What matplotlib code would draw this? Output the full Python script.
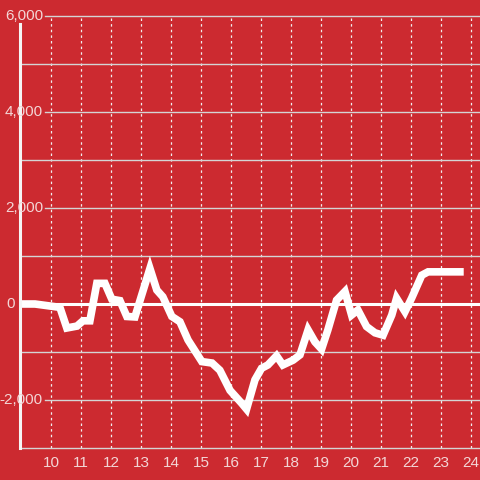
import matplotlib
matplotlib.use("Agg")
import matplotlib.pyplot as plt

# hour of day vs value
hours = [9.0, 9.47, 10.3, 10.53, 10.87, 11.07, 11.3, 11.53, 11.8, 12.03, 12.3, 12.53,
         12.8, 13.3, 13.53, 13.73, 14.03, 14.3, 14.57, 15.03, 15.37, 15.63, 15.97,
         16.36, 16.52, 16.8, 17.02, 17.23, 17.52, 17.73, 18.07, 18.3, 18.57, 18.8,
         19.02, 19.23, 19.52, 19.8, 20.02, 20.23, 20.52, 20.8, 21.07, 21.36, 21.52,
         21.8, 22.02, 22.36, 22.57, 23.63]
values = [0, 0, -70, -500, -460, -350, -350, 430, 430, 100, 70, -260,
          -270, 740, 290, 150, -260, -370, -750, -1200, -1230, -1380, -1800,
          -2070, -2190, -1580, -1340, -1270, -1080, -1270, -1170, -1060, -540, -790,
          -940, -540, 80, 260, -230, -125, -470, -600, -650, -230, 120,
          -160, 120, 600, 670, 670]

x_ticks = list(range(10, 25))
y_labeled = [6000, 4000, 2000, 0, -2000]
y_unlabeled = [5000, 3000, 1000, -1000, -3000]

red = "#cc2a30"
txt = "#f3d6d6"
plt.rcParams["font.family"] = ["Liberation Sans", "DejaVu Sans"]

fig = plt.figure(figsize=(4.8, 4.8), dpi=100, facecolor=red)
ax = fig.add_axes([20 / 480, 32 / 480, 460 / 480, 432 / 480], facecolor=red)
ax.set_xlim(8.97, 24.3)
ax.set_ylim(-3000, 6000)

# grid
for h in x_ticks:
    ax.axvline(h, color="#f0f0f0", lw=0.9, ls=(0, (2, 2.5)), zorder=1)
ytr = ax.get_yaxis_transform()
for v in y_unlabeled:
    ax.plot([0, 1], [v, v], transform=ytr, color="#d4d4d4", lw=1, zorder=1, clip_on=False)
for v in y_labeled:
    if v == 0:
        continue
    ax.plot([25 / 460, 1], [v, v], transform=ytr, color="#d4d4d4", lw=1, zorder=1, clip_on=False)
ax.axhline(0, color="white", lw=2.2, zorder=2)

# the series
ax.plot(hours, values, color="white", lw=5.5, zorder=3, solid_joinstyle="miter")

# y labels drawn by hand
for v in y_labeled:
    label = f"{v:,}".replace("-", "-")
    if v == 0:
        ax.text(-5 / 460, v, label, transform=ytr, ha="right", va="center",
                color=txt, fontsize=11, zorder=5)
    else:
        ax.text(23 / 460, v, label, transform=ytr, ha="right", va="center",
                color=txt, fontsize=11, zorder=5, clip_on=False)

ax.set_xticks(x_ticks)
ax.set_xticklabels([str(h) for h in x_ticks])
ax.set_yticks([])
ax.tick_params(axis="x", length=0, pad=6, colors=txt, labelsize=11)

for s in ["top", "right", "bottom"]:
    ax.spines[s].set_visible(False)
ax.spines["left"].set_color("#f5f5f5")
ax.spines["left"].set_linewidth(2.2)
ax.spines["left"].set_bounds(-3000, 5830)
ax.spines["left"].set_zorder(4)

fig.savefig("out.png", dpi=100, facecolor=red)
